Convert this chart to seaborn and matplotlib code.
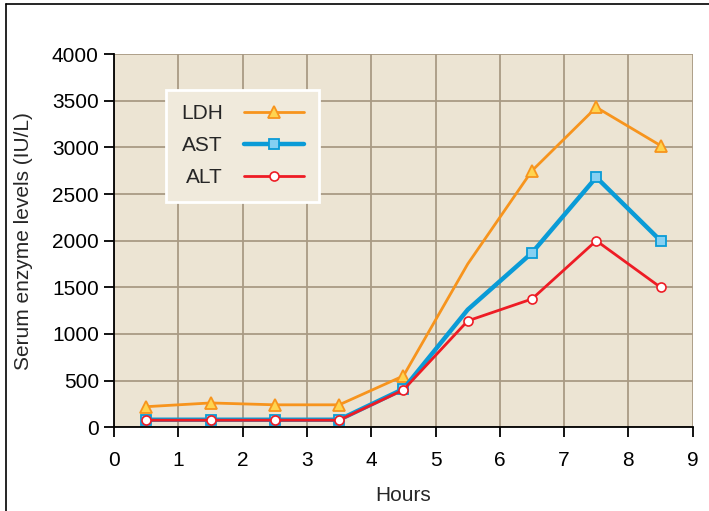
import numpy as np
import pandas as pd
import matplotlib.pyplot as plt
from matplotlib.lines import Line2D
import seaborn as sns

sns.set_style('ticks')
plt.rcParams['font.family'] = ['Liberation Sans', 'DejaVu Sans']

# data
hours = [0.5, 1.5, 2.5, 3.5, 4.5, 5.5, 6.5, 7.5, 8.5]
ldh = [220, 260, 240, 240, 550, 1750, 2750, 3430, 3020]
ast = [80, 80, 80, 80, 410, 1260, 1870, 2680, 2000]
alt = [75, 75, 75, 75, 400, 1140, 1375, 2000, 1500]

df = pd.DataFrame({'Hours': hours, 'LDH': ldh, 'AST': ast, 'ALT': alt})

fig = plt.figure(figsize=(7.09, 5.11), dpi=100)
ax = fig.add_axes([0.161, 0.164, 0.816, 0.730])
ax.set_facecolor('#ECE4D3')

# line styles per enzyme
styles = {
    'LDH': dict(color='#F7941D', lw=2.0, marker='^', ms=8, mfc='#FFD44F', mec='#F7941D',
                mew=1.3, markevery=[0, 1, 2, 3, 4, 6, 7, 8], zorder=3),
    'AST': dict(color='#0A9BD7', lw=3.2, marker='s', ms=7, mfc='#86D0F2', mec='#0A9BD7',
                mew=1.3, markevery=[0, 1, 2, 3, 4, 6, 7, 8], zorder=4),
    'ALT': dict(color='#EE1C25', lw=2.0, marker='o', ms=6.5, mfc='white', mec='#EE1C25',
                mew=1.2, markevery=None, zorder=5),
}

for name in ['LDH', 'AST', 'ALT']:
    s = styles[name]
    sns.lineplot(data=df, x='Hours', y=name, ax=ax, color=s['color'], lw=s['lw'],
                 marker=s['marker'], ms=s['ms'], mfc=s['mfc'], mec=s['mec'], mew=s['mew'],
                 markevery=s['markevery'], zorder=s['zorder'], label=name)

ax.set_xlim(0, 9)
ax.set_ylim(0, 4000)
ax.set_xticks(range(0, 10))
ax.set_yticks(range(0, 4001, 500))
ax.grid(True, color='#A99A84', lw=1.3)
ax.set_axisbelow(True)
sns.despine(ax=ax)
for sp in ['left', 'bottom']:
    ax.spines[sp].set_color('black')
    ax.spines[sp].set_linewidth(1.3)
ax.tick_params(axis='both', direction='out', length=7, width=1.3, labelsize=15,
               colors='black')
ax.tick_params(axis='x', pad=10)
ax.tick_params(axis='y', pad=4)
ax.set_xlabel('Hours', fontsize=15, labelpad=12)
ax.set_ylabel('Serum enzyme levels (IU/L)', fontsize=15, labelpad=14)

# legend with labels before the handles
handles = []
for name in ['LDH', 'AST', 'ALT']:
    s = styles[name]
    handles.append(Line2D([], [], color=s['color'], lw=s['lw'], marker=s['marker'],
                          ms=s['ms'], mfc=s['mfc'], mec=s['mec'], mew=s['mew']))
leg = ax.legend(handles, ['LDH', 'AST', 'ALT'], loc='upper left',
                bbox_to_anchor=(0.090, 0.905), markerfirst=False, fontsize=15,
                frameon=True, fancybox=False, handlelength=2.9, handletextpad=1.0,
                labelspacing=0.62, borderpad=0.7, borderaxespad=0)
leg.get_frame().set_facecolor('#F0EADC')
leg.get_frame().set_edgecolor('white')
leg.get_frame().set_linewidth(2)
leg.get_frame().set_alpha(1)

# outer frame on top and left
fig.add_artist(Line2D([6/709, 6/709], [0, 1 - 4/511], color='black', lw=1.2,
                      transform=fig.transFigure))
fig.add_artist(Line2D([6/709, 1], [1 - 4/511, 1 - 4/511], color='black', lw=1.2,
                      transform=fig.transFigure))

fig.savefig('out.png', dpi=100)
